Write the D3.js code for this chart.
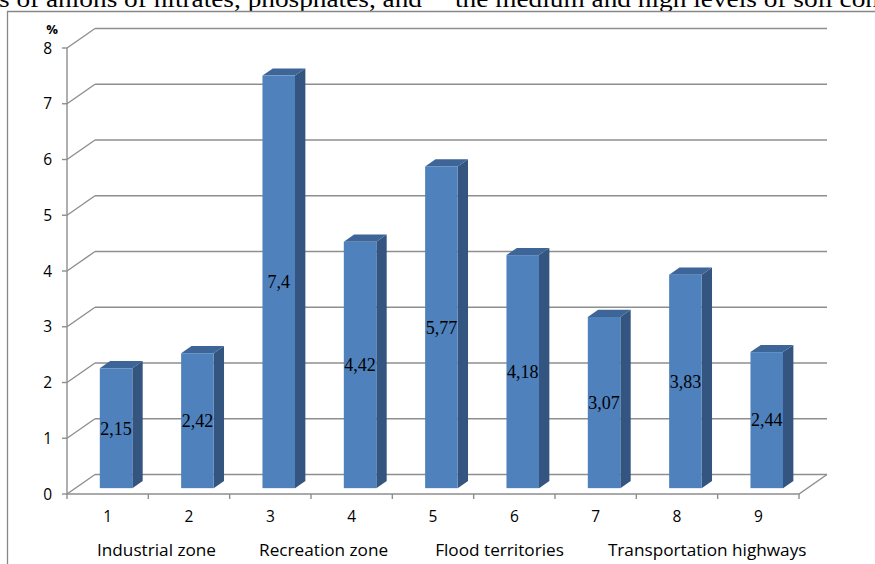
<!DOCTYPE html>
<html>
<head>
<meta charset="utf-8">
<script src="https://cdn.jsdelivr.net/npm/d3@7"></script>
<style>
  html, body { margin: 0; padding: 0; background: #fff; overflow: hidden; }
  svg { display: block; }
</style>
</head>
<body>
<div id="chart-container"></div>
<script>
// values
const categories = ["1", "2", "3", "4", "5", "6", "7", "8", "9"];
const values = [2.15, 2.42, 7.4, 4.42, 5.77, 4.18, 3.07, 3.83, 2.44];
const valueLabels = ["2,15", "2,42", "7,4", "4,42", "5,77", "4,18", "3,07", "3,83", "2,44"];
const yTicks = [0, 1, 2, 3, 4, 5, 6, 7, 8];
const groupLabels = ["Industrial zone", "Recreation zone", "Flood territories", "Transportation highways"];
const pageText = ["s of anions of nitrates, phosphates, and", "the medium and high levels of soil con"];

const width = 875;
const height = 564;

// front plane of the 3D box, plus the depth offset of the back wall
const plotLeft = 67, plotRight = 799, plotBottom = 494, plotTop = 48;
const depthX = 28, depthY = -19.5;
const barFront = 0.3, barBack = 0.67; // bar depth as a fraction of the box depth
const titleGaps = [0, 43, 47, 44]; // spacing between the zone names in the axis title

const gridColor = "#8e8e8e";
const sansFont = "'Open Sans', 'Liberation Sans', sans-serif";
const serifFont = "'Liberation Serif', 'Times New Roman', serif";

const svg = d3.select("#chart-container")
    .append("svg")
    .attr("width", width)
    .attr("height", height);

// scales
const y = d3.scaleLinear().domain([0, 8]).range([plotBottom, plotTop]);
const xCat = d3.scaleBand().domain(categories).range([plotLeft, plotRight]);
const xBar = d3.scaleBand().domain(categories).range([plotLeft, plotRight])
    .paddingInner(0.6).paddingOuter(0.3);

// page text above the chart (cut by the crop, like in the picture)
const pageLine = svg.append("g")
    .attr("font-family", serifFont)
    .attr("font-size", 23)
    .attr("fill", "#000");
pageLine.append("text")
    .attr("x", -1).attr("y", 7)
    .attr("textLength", 423)
    .attr("lengthAdjust", "spacingAndGlyphs")
    .text(pageText[0]);
pageLine.append("text")
    .attr("x", 455).attr("y", 7)
    .attr("textLength", 424)
    .attr("lengthAdjust", "spacingAndGlyphs")
    .text(pageText[1]);

// chart frame
svg.append("path")
    .attr("d", `M7.5,${height} V11.5 H${width}`)
    .attr("fill", "none")
    .attr("stroke", "#878787")
    .attr("stroke-width", 1.3);

const walls = svg.append("g")
    .attr("fill", "none")
    .attr("stroke", gridColor)
    .attr("stroke-width", 1.4);

// back wall gridlines
walls.selectAll("line.grid")
    .data(yTicks)
    .join("line")
    .attr("class", "grid")
    .attr("x1", plotLeft + depthX)
    .attr("x2", plotRight + depthX)
    .attr("y1", d => y(d) + depthY)
    .attr("y2", d => y(d) + depthY);

// side wall diagonals
walls.selectAll("line.diag")
    .data(yTicks)
    .join("line")
    .attr("class", "diag")
    .attr("x1", plotLeft)
    .attr("x2", plotLeft + depthX)
    .attr("y1", d => y(d))
    .attr("y2", d => y(d) + depthY);

// floor front edge and right edge
walls.append("path")
    .attr("d", `M${plotLeft},${y(0)} H${plotRight} L${plotRight + depthX},${y(0) + depthY}`);

// y axis line and ticks
walls.append("line")
    .attr("x1", plotLeft).attr("x2", plotLeft)
    .attr("y1", y(8)).attr("y2", y(0));
walls.selectAll("line.ytick")
    .data(yTicks)
    .join("line")
    .attr("class", "ytick")
    .attr("x1", plotLeft - 5).attr("x2", plotLeft)
    .attr("y1", d => y(d)).attr("y2", d => y(d));

// category ticks
walls.selectAll("line.xtick")
    .data(categories.concat(["end"]))
    .join("line")
    .attr("class", "xtick")
    .attr("x1", d => d === "end" ? plotRight : xCat(d))
    .attr("x2", d => d === "end" ? plotRight : xCat(d))
    .attr("y1", y(0)).attr("y2", y(0) + 5);

// y tick labels
svg.append("g")
    .attr("font-family", sansFont)
    .attr("font-size", 15.5)
    .attr("fill", "#000")
    .attr("text-anchor", "end")
    .selectAll("text")
    .data(yTicks)
    .join("text")
    .attr("x", plotLeft - 15)
    .attr("y", d => y(d))
    .attr("dy", "0.36em")
    .text(d => d);

svg.append("text")
    .attr("x", 52).attr("y", 34)
    .attr("text-anchor", "middle")
    .attr("font-family", sansFont)
    .attr("font-size", 13)
    .attr("font-weight", "bold")
    .text("%");

// bars
const barData = categories.map((c, i) => ({ cat: c, value: values[i], label: valueLabels[i] }));
const bw = xBar.bandwidth();
const ddx = (barBack - barFront) * depthX;
const ddy = (barBack - barFront) * depthY;

const bars = svg.append("g")
    .selectAll("g")
    .data(barData)
    .join("g");

const fx = d => xBar(d.cat) + barFront * depthX;
const fTop = d => y(d.value) + barFront * depthY;
const fBottom = y(0) + barFront * depthY;

bars.append("path") // side
    .attr("fill", "#33557f")
    .attr("d", d => `M${fx(d) + bw},${fTop(d)} l${ddx},${ddy} V${fBottom + ddy} l${-ddx},${-ddy} Z`);

bars.append("path") // top
    .attr("fill", "#3d6597")
    .attr("d", d => `M${fx(d)},${fTop(d)} h${bw} l${ddx},${ddy} h${-bw} Z`);

bars.append("rect") // front
    .attr("fill", "#4f81bd")
    .attr("x", fx)
    .attr("y", fTop)
    .attr("width", bw)
    .attr("height", d => fBottom - fTop(d));

bars.append("text")
    .attr("x", d => fx(d) + bw / 2)
    .attr("y", d => (fTop(d) + fBottom) / 2)
    .attr("dy", "0.35em")
    .attr("text-anchor", "middle")
    .attr("font-family", serifFont)
    .attr("font-size", 18)
    .attr("fill", "#000")
    .text(d => d.label);

// category labels
svg.append("g")
    .attr("font-family", sansFont)
    .attr("font-size", 15.5)
    .attr("fill", "#000")
    .attr("text-anchor", "middle")
    .selectAll("text")
    .data(categories)
    .join("text")
    .attr("x", d => xCat(d) + xCat.bandwidth() / 2)
    .attr("y", 522)
    .text(d => d);

// axis title: the zone names written as one spaced line
const title = svg.append("text")
    .attr("x", 97)
    .attr("y", 556)
    .attr("font-family", sansFont)
    .attr("font-size", 17.2)
    .attr("fill", "#000");
title.selectAll("tspan")
    .data(groupLabels)
    .join("tspan")
    .attr("dx", (d, i) => titleGaps[i])
    .text(d => d);
</script>
</body>
</html>
